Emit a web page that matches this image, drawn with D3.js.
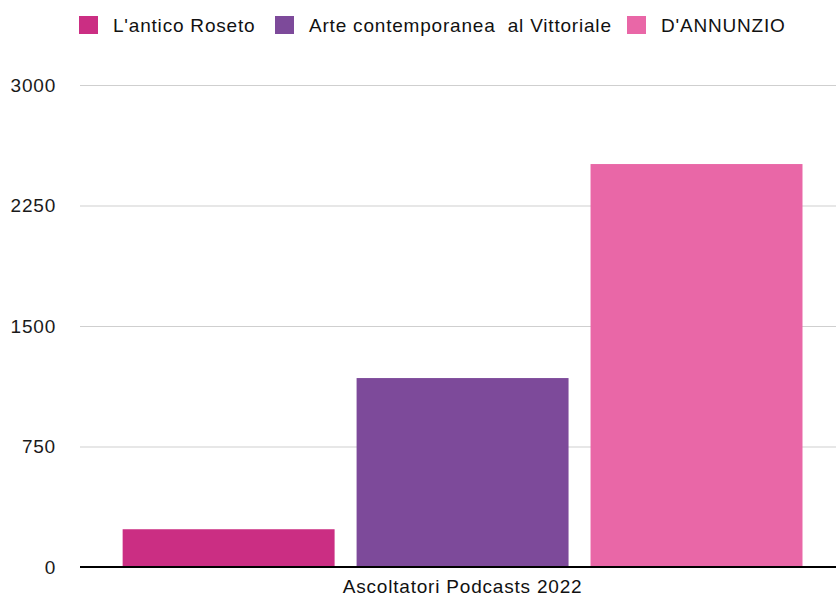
<!DOCTYPE html>
<html>
<head>
<meta charset="utf-8">
<script src="https://cdn.jsdelivr.net/npm/d3@7"></script>
<style>
html,body{margin:0;padding:0;background:#fff;}
svg{display:block;font-family:"Liberation Sans",Arial,Helvetica,sans-serif;}
</style>
</head>
<body>
<svg id="chart" width="836" height="596"></svg>
<script>
const categories = ["Ascoltatori Podcasts 2022"];
const seriesNames = ["L'antico Roseto", "Arte contemporanea  al Vittoriale", "D'ANNUNZIO"];
const seriesValues = [235, 1176, 2508];
const seriesColors = ["#CB2E83", "#7D4A9A", "#E967A7"];
const yTicks = [0, 750, 1500, 2250, 3000];

(function () {
const svg = d3.select("#chart");
const mLeft = 80, mRight = 836, mTop = 85, mBottom = 567;
const FS = 19, LS = 0.8;

const y = d3.scaleLinear().domain([0, 3000]).range([mBottom, mTop]);
const x0 = d3.scaleBand().domain(categories).range([mLeft, mRight]).paddingInner(0).paddingOuter(0.056).align(0.56);
const x1 = d3.scaleBand().domain(seriesNames).range([0, x0.bandwidth()]).paddingInner(0.094).paddingOuter(0);

// gridlines
svg.append("g").selectAll("line").data(yTicks.filter(d => d > 0)).join("line")
  .attr("x1", mLeft).attr("x2", mRight)
  .attr("y1", d => y(d) + 0.5).attr("y2", d => y(d) + 0.5)
  .attr("stroke", "#cfcfcf").attr("stroke-width", 1);

// y labels
const yAxis = d3.axisLeft(y).tickValues(yTicks).tickSize(0).tickPadding(0).tickFormat(d3.format("d"));
const ya = svg.append("g").attr("transform", `translate(${mLeft - 24},0)`).call(yAxis);
ya.select(".domain").remove();
ya.selectAll("text").attr("font-size", FS).attr("letter-spacing", LS).attr("fill", "#1a1a1a")
  .attr("font-family", "Liberation Sans, Arial, sans-serif");

// bars
const data = seriesNames.map((s, i) => ({cat: categories[0], name: s, value: seriesValues[i], color: seriesColors[i]}));
svg.append("g").selectAll("rect").data(data).join("rect")
  .attr("x", d => x0(d.cat) + x1(d.name))
  .attr("width", x1.bandwidth())
  .attr("y", d => y(d.value))
  .attr("height", d => y(0) - y(d.value))
  .attr("fill", d => d.color);

// baseline axis
const xAxis = d3.axisBottom(x0).tickSize(0).tickPadding(13);
const xa = svg.append("g").attr("transform", `translate(0,${mBottom})`).call(xAxis);
xa.select(".domain").attr("stroke", "#000").attr("stroke-width", 2).attr("d", `M${mLeft},0H${mRight}`);
xa.selectAll("text").attr("font-size", FS).attr("letter-spacing", LS).attr("fill", "#111")
  .attr("font-family", "Liberation Sans, Arial, sans-serif");

// legend
const legendX = [79, 275, 627];
const lg = svg.append("g").selectAll("g").data(data).join("g")
  .attr("transform", (d, i) => `translate(${legendX[i]},16)`);
lg.append("rect").attr("width", 19).attr("height", 18).attr("fill", d => d.color);
lg.append("text").attr("x", 34).attr("y", 16).attr("font-size", FS).attr("letter-spacing", LS).attr("fill", "#111")
  .style("white-space", "pre").attr("xml:space", "preserve")
  .text(d => d.name);
})();
</script>
</body>
</html>
